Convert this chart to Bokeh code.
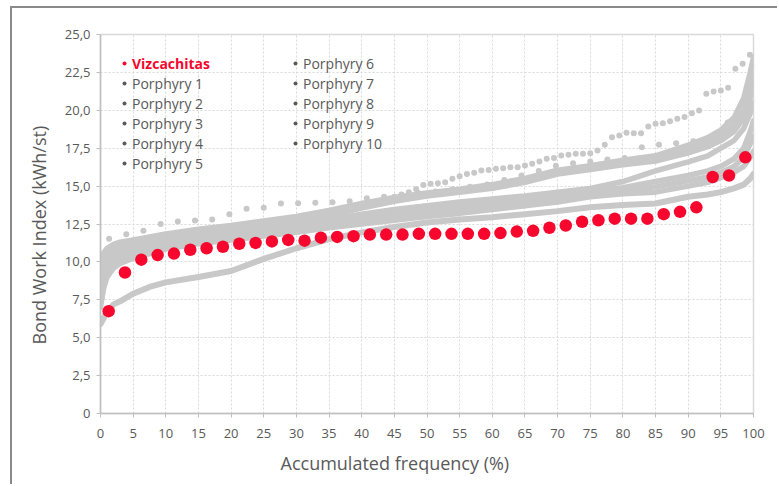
import numpy as np
from bokeh.plotting import figure
from bokeh.models import Range1d, FixedTicker, Legend, LegendItem, Title
from bokeh.embed import file_html
from bokeh.resources import INLINE

# ---------------- data ----------------
SERIES_NAMES = ["Vizcachitas", "Porphyry 1", "Porphyry 2", "Porphyry 3", "Porphyry 4",
                "Porphyry 5", "Porphyry 6", "Porphyry 7", "Porphyry 8", "Porphyry 9", "Porphyry 10"]
X_TITLE = "Accumulated frequency (%)"
Y_TITLE = "Bond Work Index (kWh/st)"

X_TICKS = [0, 5, 10, 15, 20, 25, 30, 35, 40, 45, 50, 55, 60, 65, 70, 75, 80, 85, 90, 95, 100]
Y_TICKS = [0, 2.5, 5, 7.5, 10, 12.5, 15, 17.5, 20, 22.5, 25]
Y_TICK_LABELS = ["0", "2,5", "5,0", "7,5", "10,0", "12,5", "15,0", "17,5", "20,0", "22,5", "25,0"]

# Vizcachitas (40 samples, sorted)
vizcachitas = [6.75, 9.3, 10.15, 10.45, 10.55, 10.8, 10.9, 11.0, 11.2, 11.25,
               11.35, 11.45, 11.4, 11.6, 11.65, 11.7, 11.8, 11.8, 11.8, 11.85,
               11.85, 11.85, 11.85, 11.85, 11.9, 12.0, 12.05, 12.25, 12.4, 12.65,
               12.75, 12.85, 12.85, 12.85, 13.15, 13.3, 13.6, 15.6, 15.7, 16.9]

# Porphyry 1 (38 samples)
porphyry_1 = [11.52, 11.82, 12.05, 12.5, 12.66, 12.73, 12.8, 13.15, 13.5, 13.58,
              13.85, 13.87, 13.9, 13.94, 14.0, 14.2, 14.3, 14.4, 14.55, 14.65,
              14.8, 14.95, 15.1, 15.4, 15.7, 16.0, 16.35, 16.5, 16.62, 16.75,
              16.86, 17.57, 17.72, 17.83, 17.96, 18.15, 19.2, 21.0]

# Porphyry 2 (90 samples)
porphyry_2 = [10.0, 10.7, 11.0, 11.2, 11.3, 11.4, 11.5, 11.55, 11.6, 11.7,
              11.75, 11.8, 11.9, 11.95, 12.0, 12.05, 12.1, 12.2, 12.25, 12.3,
              12.35, 12.45, 12.5, 12.55, 12.65, 12.7, 12.8, 12.9, 12.95, 13.05,
              13.15, 13.25, 13.35, 13.45, 13.55, 13.65, 13.8, 13.9, 14.0, 14.15,
              14.3, 14.45, 14.6, 14.8,
              15.08, 15.15, 15.19, 15.26, 15.48, 15.65, 15.8, 15.88, 16.03, 16.07,
              16.14, 16.18, 16.25, 16.25, 16.36, 16.47, 16.62, 16.8, 16.86, 17.02,
              17.06, 17.13, 17.13, 17.17, 17.35, 17.72, 18.23, 18.34, 18.52, 18.49,
              18.49, 18.93, 19.11, 19.15, 19.28, 19.44, 19.55, 19.81, 19.99, 21.09,
              21.24, 21.31, 21.48, 22.74, 23.07, 23.66]

# Dense porphyries: values at these accumulated frequencies (%)
dense_freq = [0, 0.5, 1, 2, 3, 5, 7.5, 10, 15, 20, 25, 30, 35, 40, 45, 50, 55, 60, 65, 70,
              75, 80, 85, 90, 93, 95, 97, 98.5, 99.5, 100]
porphyry_3 = [9.6, 10.6, 10.9, 11.15, 11.3, 11.45, 11.65, 11.85, 12.15, 12.4, 12.7, 13.0, 13.4, 13.85, 14.25,
              14.55, 14.8, 15.1, 15.5, 16.05, 16.35, 16.7, 17.0, 17.7, 18.2, 18.7, 19.5, 20.8, 22.5, 23.5]
porphyry_4 = [8.8, 10.0, 10.4, 10.8, 10.95, 11.15, 11.35, 11.55, 11.85, 12.1, 12.4, 12.7, 13.05, 13.55, 14.0,
              14.35, 14.6, 14.85, 15.25, 15.8, 16.1, 16.4, 16.65, 17.2, 17.6, 18.0, 18.6, 19.5, 20.8, 21.6]
porphyry_5 = [9.2, 10.3, 10.6, 10.95, 11.1, 11.3, 11.5, 11.7, 12.0, 12.25, 12.55, 12.85, 13.2, 13.7, 14.1,
              14.45, 14.7, 14.95, 15.35, 15.9, 16.2, 16.5, 16.8, 17.45, 17.9, 18.3, 19.0, 20.0, 21.5, 22.3]
porphyry_6 = [8.3, 9.6, 10.0, 10.45, 10.7, 10.95, 11.15, 11.35, 11.65, 11.9, 12.15, 12.45, 12.8, 13.15, 13.45,
              13.7, 13.95, 14.15, 14.35, 14.6, 14.85, 15.3, 16.0, 16.6, 17.0, 17.5, 18.0, 18.8, 19.8, 20.5]
porphyry_7 = [7.9, 9.2, 9.7, 10.2, 10.45, 10.75, 11.0, 11.2, 11.5, 11.75, 12.0, 12.3, 12.6, 12.95, 13.25,
              13.55, 13.75, 13.95, 14.15, 14.4, 14.65, 14.9, 15.3, 15.7, 16.0, 16.3, 16.8, 17.5, 18.6, 19.3]
porphyry_8 = [7.5, 8.8, 9.4, 9.95, 10.2, 10.5, 10.75, 11.0, 11.35, 11.6, 11.85, 12.1, 12.4, 12.7, 13.0,
              13.3, 13.5, 13.7, 13.95, 14.2, 14.45, 14.7, 14.95, 15.35, 15.6, 15.9, 16.3, 16.9, 17.8, 18.3]
porphyry_9 = [7.0, 8.3, 9.0, 9.6, 9.9, 10.25, 10.55, 10.85, 11.2, 11.45, 11.7, 11.95, 12.25, 12.5, 12.75,
              13.0, 13.2, 13.45, 13.7, 13.95, 14.3, 14.5, 14.6, 15.0, 15.25, 15.55, 15.9, 16.3, 16.9, 17.3]
porphyry_10 = [5.9, 6.3, 6.7, 7.2, 7.4, 7.9, 8.35, 8.65, 9.0, 9.4, 10.2, 10.9, 11.5, 11.95, 12.3,
               12.6, 12.8, 12.95, 13.15, 13.35, 13.6, 13.75, 13.85, 14.3, 14.45, 14.6, 14.85, 15.1, 15.5, 15.8]

# ---------------- styling ----------------
RED = "#f7072d"
GRAY = "#c8c8c8"
DARK = "#595959"
FONT = "Open Sans"


def freq(values):
    n = len(values)
    return list((np.arange(n) + 0.5) * 100.0 / n)


p = figure(width=767, height=478, x_range=Range1d(0, 100), y_range=Range1d(0, 25),
           output_backend="svg", toolbar_location=None,
           min_border_left=88, min_border_right=26, min_border_top=26, min_border_bottom=73)
p.margin = (6, 0, 0, 10)
p.styles = {"border-left": "2px solid #8a8a8a", "border-top": "2px solid #8a8a8a"}
p.background_fill_color = "white"
p.border_fill_color = "white"
p.outline_line_color = "#d9d9d9"
p.outline_line_width = 1.5

# dense series as thick bands
for vals in (porphyry_3, porphyry_4, porphyry_5, porphyry_6, porphyry_7, porphyry_8, porphyry_9):
    p.line(dense_freq, vals, line_width=5.5, line_color=GRAY, line_cap="round", line_join="round")
p.line(dense_freq, porphyry_10, line_width=6, line_color=GRAY, line_cap="round", line_join="round")

# sparse series
p.scatter(freq(porphyry_1), porphyry_1, size=6, fill_color=GRAY, line_color=None)
p.scatter(freq(porphyry_2), porphyry_2, size=6, fill_color=GRAY, line_color=None)

# Vizcachitas
r_viz = p.scatter(freq(vizcachitas), vizcachitas, size=12.5, fill_color=RED, line_color=None)

# axes
p.xaxis.ticker = FixedTicker(ticks=X_TICKS)
p.yaxis.ticker = FixedTicker(ticks=Y_TICKS)
p.yaxis.major_label_overrides = {t: s for t, s in zip(Y_TICKS, Y_TICK_LABELS)}
for ax in (p.xaxis[0], p.yaxis[0]):
    ax.axis_line_color = "#bfbfbf"
    ax.axis_line_width = 1.5
    ax.major_tick_line_color = "#bfbfbf"
    ax.major_tick_out = 4
    ax.major_tick_in = 0
    ax.minor_tick_line_color = None
    ax.major_label_text_font = FONT
    ax.major_label_text_font_size = "13px"
    ax.major_label_text_color = DARK
p.xaxis.major_label_standoff = 11
p.yaxis.major_label_standoff = 6

# axis titles (placed slightly off-centre, as in the reference)
p.add_layout(Title(text=X_TITLE, align="left", offset=180, standoff=16, text_font=FONT,
                   text_font_size="18px", text_color=DARK, text_font_style="normal"), "below")
p.add_layout(Title(text=Y_TITLE, align="left", offset=69, standoff=22, text_font=FONT,
                   text_font_size="18px", text_color=DARK, text_font_style="normal"), "left")

for g in (p.xgrid[0], p.ygrid[0]):
    g.grid_line_color = "#d9d9d9"
    g.grid_line_dash = "2 2"
    g.grid_line_width = 1

# legends (dark-gray dots for porphyries)
dummies = [p.scatter([np.nan], [np.nan], size=6, fill_color=DARK, line_color=None) for _ in range(10)]


def make_legend(items, loc, color=DARK, style="normal"):
    lg = Legend(items=items, location=loc, orientation="vertical",
                label_text_font=FONT, label_text_font_size="14px", label_text_color=color,
                label_text_font_style=style, label_height=20, glyph_height=10, glyph_width=10,
                label_standoff=3, spacing=0, padding=0, margin=0,
                background_fill_alpha=0, border_line_color=None)
    p.add_layout(lg, "center")


make_legend([LegendItem(label=SERIES_NAMES[0], renderers=[r_viz])], (19, 340), color=RED, style="bold")
make_legend([LegendItem(label=SERIES_NAMES[i + 1], renderers=[dummies[i]]) for i in range(5)], (19, 240))
make_legend([LegendItem(label=SERIES_NAMES[i + 1], renderers=[dummies[i]]) for i in range(5, 10)], (190, 260))

open("out.html", "w").write(file_html(p, INLINE))
